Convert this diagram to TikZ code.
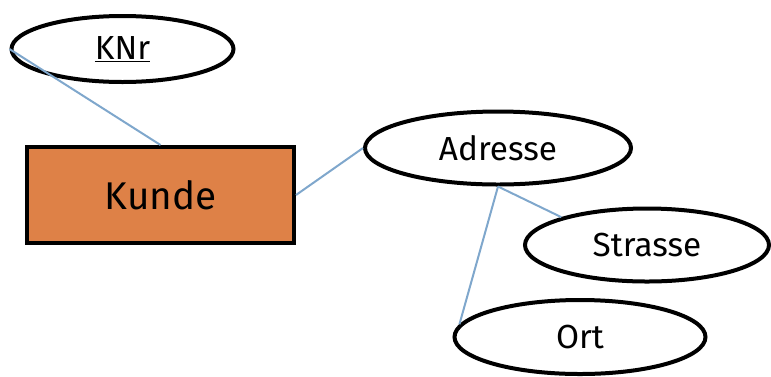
\documentclass[tikz,border=0pt]{standalone}
\usepackage{fontspec}
\setmainfont{Fira Sans}
\usetikzlibrary{shapes.geometric}
\definecolor{entityfill}{RGB}{222,129,71}
\definecolor{linkblue}{RGB}{127,167,204}
\tikzset{
  attr/.style={ellipse, draw=black, line width=3pt, fill=white, inner sep=0pt, font=\fontsize{25}{29}\selectfont},
  entity/.style={rectangle, draw=black, line width=3pt, fill=entityfill, inner sep=0pt, font=\fontsize{29}{33}\selectfont},
  link/.style={draw=linkblue, line width=1.5pt}
}
\begin{document}
\begin{tikzpicture}[x=0.75pt,y=-0.75pt]
\useasboundingbox (0,0) rectangle (771,376);
% entity
\node[entity, minimum width=267*0.75pt, minimum height=96*0.75pt] (kunde) at (160.5,195) {Kunde};
% attributes
\node[attr, minimum width=222*0.75pt, minimum height=66*0.75pt] (knr) at (122.5,49) {\underline{KNr}};
\node[attr, minimum width=266*0.75pt, minimum height=73*0.75pt] (adresse) at (498,148) {Adresse};
\node[attr, minimum width=244*0.75pt, minimum height=73*0.75pt] (strasse) at (647,245) {Strasse};
\node[attr, minimum width=251*0.75pt, minimum height=74*0.75pt] (ort) at (580,337) {Ort};
% connectors
\draw[link] (knr.west) -- (kunde.north);
\draw[link] (kunde.east) -- (adresse.west);
\draw[link] (adresse.south) -- (strasse.162);
\draw[link] (adresse.south) -- (ort.174);
\end{tikzpicture}
\end{document}
